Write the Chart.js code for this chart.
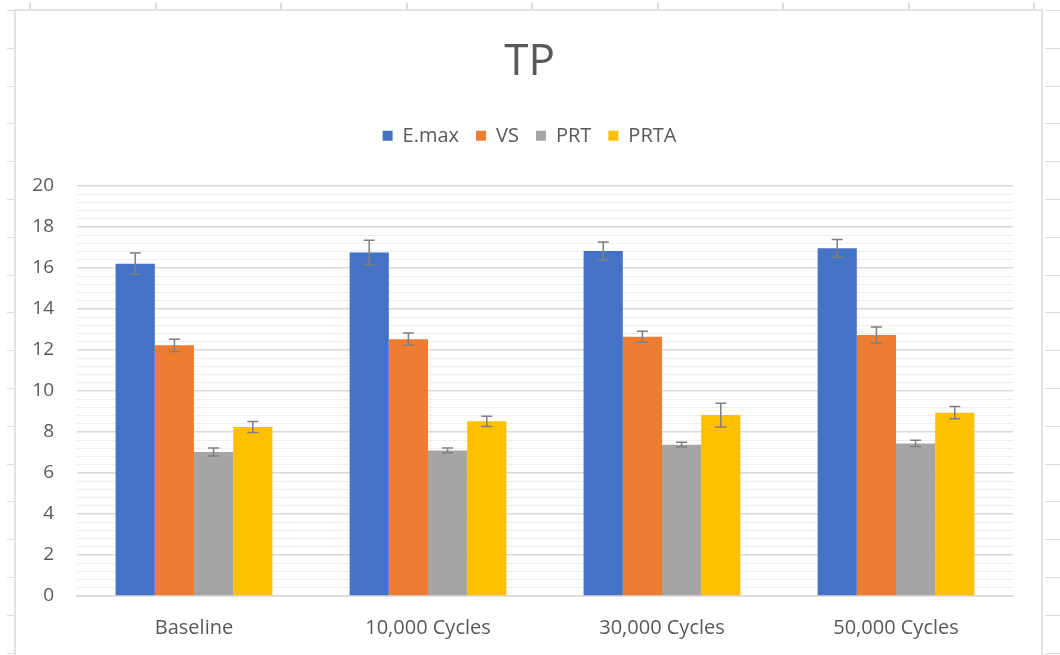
<!DOCTYPE html>
<html>
<head>
<meta charset="utf-8">
<script src="https://cdn.jsdelivr.net/npm/chart.js@4/dist/chart.umd.min.js"></script>
<style>
  html, body { margin: 0; padding: 0; background: #fff; }
  body { width: 1060px; height: 655px; position: relative; overflow: hidden; }
  /* sheet cell lines around the chart */
  .top-ticks { position: absolute; left: 0; top: 3px; width: 1060px; height: 8px;
    background: repeating-linear-gradient(90deg, transparent 0 29px, #dcdcdc 29px 31px, transparent 31px 125.5px); }
  .left-ticks { position: absolute; left: 7px; top: 0; width: 8px; height: 655px;
    background: repeating-linear-gradient(180deg, transparent 0 10px, #dcdcdc 10px 11px, transparent 11px 37.8px); }
  .right-ticks { position: absolute; left: 1045px; top: 0; width: 15px; height: 655px;
    background: repeating-linear-gradient(180deg, transparent 0 10px, #dcdcdc 10px 11px, transparent 11px 37.8px); }
  .box { position: absolute; left: 14px; top: 9px; width: 1029px; height: 660px;
    border: 2px solid #e3e3e3; background: #fff; box-sizing: border-box; }
  #wrap { position: absolute; left: 16px; top: 11px; width: 1027px; height: 644px; }
</style>
</head>
<body>
<div class="top-ticks"></div>
<div class="left-ticks"></div>
<div class="right-ticks"></div>
<div class="box"></div>
<div id="wrap"><canvas id="tpChart"></canvas></div>
<script>
const categorias = ["Baseline", "10,000 Cycles", "30,000 Cycles", "50,000 Cycles"];

const emax = [16.2, 16.75, 16.82, 16.95];
const vs = [12.22, 12.52, 12.64, 12.72];
const prt = [7.02, 7.1, 7.38, 7.44];
const prta = [8.24, 8.52, 8.82, 8.94];

// desvios (barras de erro)
const emaxErr = [0.52, 0.6, 0.44, 0.43];
const vsErr = [0.3, 0.3, 0.27, 0.4];
const prtErr = [0.2, 0.12, 0.12, 0.15];
const prtaErr = [0.27, 0.25, 0.58, 0.3];

const yMax = 20;
const yStepMinor = 0.4;

const errorBars = {
  id: "errorBars",
  afterDatasetsDraw(chart) {
    const ctx = chart.ctx;
    const y = chart.scales.y;
    ctx.save();
    ctx.strokeStyle = "#7f7f7f";
    ctx.lineWidth = 1.5;
    chart.data.datasets.forEach((ds, i) => {
      const meta = chart.getDatasetMeta(i);
      meta.data.forEach((bar, j) => {
        const v = ds.data[j];
        const e = ds.errors[j];
        const top = y.getPixelForValue(v + e);
        const bot = y.getPixelForValue(v - e);
        ctx.beginPath();
        ctx.moveTo(bar.x, top); ctx.lineTo(bar.x, bot);
        ctx.moveTo(bar.x - 5.5, top); ctx.lineTo(bar.x + 5.5, top);
        ctx.moveTo(bar.x - 5.5, bot); ctx.lineTo(bar.x + 5.5, bot);
        ctx.stroke();
      });
    });
    ctx.restore();
  }
};

// espaço extra abaixo da legenda
const legendGap = {
  id: "legendGap",
  beforeInit(chart) {
    const fit = chart.legend.fit;
    chart.legend.fit = function () {
      fit.bind(chart.legend)();
      this.height += 30;
    };
  }
};

function isMajor(v) {
  return Math.abs(v / 2 - Math.round(v / 2)) < 1e-6;
}

const ctx = document.getElementById("tpChart").getContext("2d");
const chart = new Chart(ctx, {
  type: "bar",
  data: {
    labels: categorias,
    datasets: [
      { label: "E.max", data: emax, errors: emaxErr, backgroundColor: "#4472C4" },
      { label: "VS", data: vs, errors: vsErr, backgroundColor: "#ED7D31" },
      { label: "PRT", data: prt, errors: prtErr, backgroundColor: "#A5A5A5" },
      { label: "PRTA", data: prta, errors: prtaErr, backgroundColor: "#FFC000" }
    ]
  },
  options: {
    responsive: true,
    maintainAspectRatio: false,
    animation: false,
    layout: { padding: { left: 0, right: 0, top: 0, bottom: 3 } },
    datasets: { bar: { barPercentage: 1, categoryPercentage: 0.67 } },
    plugins: {
      title: {
        display: true,
        text: "TP",
        color: "#595959",
        font: { family: "'Open Sans', sans-serif", size: 44, weight: "normal" },
        padding: { top: 25, bottom: 20 }
      },
      legend: {
        position: "top",
        labels: {
          boxWidth: 10,
          boxHeight: 10,
          padding: 17,
          color: "#595959",
          font: { family: "'Open Sans', sans-serif", size: 20 }
        }
      },
      tooltip: { enabled: false }
    },
    scales: {
      x: {
        grid: { display: false },
        border: { color: "#d9d9d9", width: 1.5 },
        ticks: {
          color: "#595959",
          padding: 12,
          font: { family: "'Open Sans', sans-serif", size: 20 }
        }
      },
      y: {
        min: 0,
        max: yMax,
        afterFit(scale) { scale.width = 61; },
        border: { display: false },
        grid: {
          drawTicks: false,
          color: (c) => isMajor(c.tick.value) ? "#d9d9d9" : "#eeeeee",
          lineWidth: (c) => isMajor(c.tick.value) ? 1.5 : 1
        },
        ticks: {
          stepSize: yStepMinor,
          autoSkip: false,
          padding: 23,
          color: "#595959",
          font: { family: "'Open Sans', sans-serif", size: 19 },
          callback: (v) => isMajor(v) ? Math.round(v) : ""
        }
      },
      // eixo vazio à direita só para deixar a margem
      yRight: {
        position: "right",
        min: 0,
        max: yMax,
        afterFit(scale) { scale.width = 30; },
        border: { display: false },
        grid: { display: false, drawTicks: false },
        ticks: { display: false }
      }
    }
  },
  plugins: [errorBars, legendGap]
});
</script>
</body>
</html>
